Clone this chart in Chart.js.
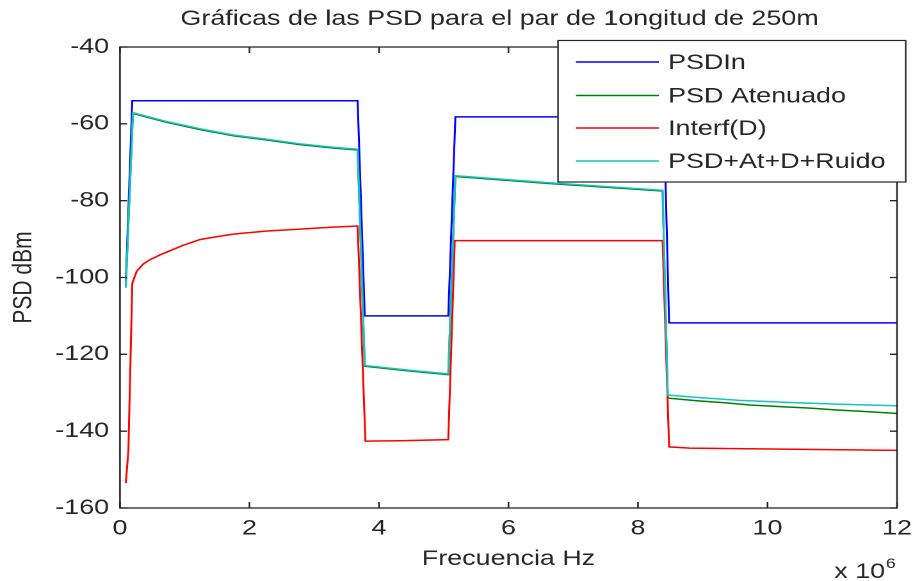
<!DOCTYPE html>
<html>
<head>
<meta charset="utf-8">
<script src="https://cdn.jsdelivr.net/npm/chart.js@4.4.1/dist/chart.umd.min.js"></script>
<style>
  html, body { margin: 0; padding: 0; background: #fff; overflow: hidden; }
  /* the figure is laid out narrow and widened, like a resized MATLAB window */
  #wrap { width: 713px; height: 581px; transform: scaleX(1.2805); transform-origin: 0 0; }
</style>
</head>
<body>
<div id="wrap"><canvas id="c" width="713" height="581"></canvas></div>
<script>
// Frequencies in Hz, PSD values in dBm
const psdInFreq = [0.09e6, 0.19e6, 3.67e6, 3.78e6, 5.07e6, 5.18e6, 8.40e6, 8.48e6, 12.0e6];
const psdInVal  = [-101, -54, -54, -110, -110, -58.2, -58.2, -111.8, -111.8];

const atenFreq = [0.09e6, 0.2e6, 0.72e6, 1.24e6, 1.75e6, 2.27e6, 2.78e6, 3.29e6, 3.67e6, 3.78e6, 4.4e6, 5.07e6,
                  5.18e6, 6.6e6, 8.38e6, 8.46e6, 8.93e6, 9.34e6, 9.73e6, 10.19e6, 10.66e6, 11.07e6, 11.54e6, 12.0e6];
const atenVal  = [-102.6, -57.3, -59.6, -61.5, -63.1, -64.2, -65.4, -66.3, -66.8, -123.1, -124.2, -125.3,
                  -73.7, -75.5, -77.5, -131.4, -132.1, -132.6, -133.2, -133.6, -134.0, -134.5, -134.9, -135.4];

const interfFreq = [0.09e6, 0.13e6, 0.19e6, 0.26e6, 0.36e6, 0.46e6, 0.62e6, 0.98e6, 1.24e6, 1.49e6, 1.75e6, 2.27e6,
                    2.78e6, 3.29e6, 3.67e6, 3.79e6, 4.32e6, 5.07e6, 5.17e6, 8.38e6, 8.48e6, 8.8e6, 12.0e6];
const interfVal  = [-153.5, -145, -101.5, -98.3, -96.5, -95.4, -94.1, -91.6, -90.1, -89.4, -88.7, -87.9,
                    -87.4, -86.9, -86.6, -142.6, -142.5, -142.2, -90.4, -90.4, -144.1, -144.4, -145.0];

const totalFreq = [0.09e6, 0.2e6, 0.72e6, 1.24e6, 1.75e6, 2.27e6, 2.78e6, 3.29e6, 3.67e6, 3.78e6, 4.4e6, 5.07e6,
                   5.18e6, 6.6e6, 8.38e6, 8.46e6, 8.9e6, 9.57e6, 10.3e6, 11.12e6, 12.0e6];
const totalVal  = [-102.5, -57.1, -59.4, -61.3, -62.9, -64.0, -65.2, -66.1, -66.6, -122.9, -124.0, -125.1,
                   -73.5, -75.3, -77.3, -130.6, -131.2, -132.0, -132.5, -133.0, -133.4];

const seriesNames = ['PSDIn', 'PSD Atenuado', 'Interf(D)', 'PSD+At+D+Ruido'];
const seriesColors = ['rgb(0,0,255)', 'rgb(0,128,0)', 'rgb(255,0,0)', 'rgb(20,196,196)'];

const yTicks = [-160, -140, -120, -100, -80, -60, -40];
const xTicks = [0, 2e6, 4e6, 6e6, 8e6, 10e6, 12e6];

const titleText = 'Gráficas de las PSD para el par de 1ongitud de 250m';

const FONT = 'Liberation Sans, Arial, Helvetica, sans-serif';
const INK = '#262626';

function pts(fs, vs) { return fs.map((f, i) => ({ x: f, y: vs[i] })); }

const pairs = [[psdInFreq, psdInVal], [atenFreq, atenVal], [interfFreq, interfVal], [totalFreq, totalVal]];
const datasets = pairs.map((p, i) => ({
  label: seriesNames[i],
  data: pts(p[0], p[1]),
  borderColor: seriesColors[i],
  backgroundColor: seriesColors[i],
  borderWidth: 1.5,
  pointRadius: 0,
  tension: 0,
  fill: false,
  order: 4 - i            // later series are drawn on top
}));

// Plot box with inward tick marks on all four sides, title, exponent and legend
const framePlugin = {
  id: 'frame',
  afterDatasetsDraw(chart) {
    const { ctx, chartArea: a, scales: { x, y } } = chart;
    ctx.save();
    ctx.strokeStyle = INK;
    ctx.lineWidth = 1.3;
    ctx.strokeRect(a.left, a.top, a.right - a.left, a.bottom - a.top);
    ctx.beginPath();
    x.ticks.forEach(t => {
      const px = x.getPixelForValue(t.value);
      ctx.moveTo(px, a.bottom); ctx.lineTo(px, a.bottom - 6);
      ctx.moveTo(px, a.top); ctx.lineTo(px, a.top + 6);
    });
    y.ticks.forEach(t => {
      const py = y.getPixelForValue(t.value);
      ctx.moveTo(a.left, py); ctx.lineTo(a.left + 5.5, py);
      ctx.moveTo(a.right, py); ctx.lineTo(a.right - 5.5, py);
    });
    ctx.stroke();
    ctx.restore();
  },
  afterDraw(chart) {
    const { ctx, chartArea: a } = chart;
    ctx.save();
    ctx.fillStyle = INK;

    // title centred over the plot box
    ctx.font = '21px ' + FONT;
    ctx.textAlign = 'center';
    ctx.textBaseline = 'middle';
    ctx.fillText(titleText, (a.left + a.right) / 2 - 7, 19);

    // exponent of the frequency axis
    ctx.textBaseline = 'alphabetic';
    ctx.textAlign = 'left';
    ctx.fillText('x 10', 651.5, 578);
    const w = ctx.measureText('x 10').width;
    ctx.font = '14px ' + FONT;
    ctx.fillText('6', 651.5 + w + 0.5, 568);

    // legend box in the upper right corner
    const bx = 435.8, by = 40.5, bw = 271.5, bh = 141.5;
    ctx.fillStyle = '#fff';
    ctx.fillRect(bx, by, bw, bh);
    ctx.strokeStyle = INK;
    ctx.lineWidth = 1.2;
    ctx.strokeRect(bx, by, bw, bh);
    const rows = [62, 95.5, 128, 161];
    ctx.font = '21px ' + FONT;
    ctx.textBaseline = 'middle';
    chart.data.datasets.forEach((ds, i) => {
      ctx.strokeStyle = ds.borderColor;
      ctx.lineWidth = 1.5;
      ctx.beginPath();
      ctx.moveTo(449.8, rows[i]);
      ctx.lineTo(514.6, rows[i]);
      ctx.stroke();
      ctx.fillStyle = INK;
      ctx.fillText(ds.label, 521.7, rows[i] + 1);
    });
    ctx.restore();
  }
};

new Chart(document.getElementById('c'), {
  type: 'line',
  data: { datasets },
  options: {
    responsive: false,
    animation: false,
    devicePixelRatio: 2,
    layout: { padding: { left: 0, right: 12.5, top: 47, bottom: 0 } },
    plugins: {
      legend: { display: false },
      tooltip: { enabled: false },
      title: { display: false }
    },
    scales: {
      x: {
        type: 'linear',
        min: 0, max: 12e6,
        afterBuildTicks: s => { s.ticks = xTicks.map(v => ({ value: v })); },
        afterFit: s => { s.height = 73; s.paddingLeft = 0; s.paddingRight = 0; },
        grid: { display: false, drawTicks: false },
        border: { display: false },
        ticks: {
          color: INK,
          font: { family: FONT, size: 21, lineHeight: 1.2 },
          padding: 8,
          maxRotation: 0,
          callback: v => String(v / 1e6)
        },
        title: {
          display: true,
          text: 'Frecuencia Hz',
          color: INK,
          font: { family: FONT, size: 21, lineHeight: 1.2 },
          padding: { top: 0, bottom: 9 }
        }
      },
      y: {
        type: 'linear',
        min: -160, max: -40,
        afterBuildTicks: s => { s.ticks = yTicks.map(v => ({ value: v })); },
        afterFit: s => { s.width = 93.7; s.paddingTop = 0; s.paddingBottom = 0; },
        grid: { display: false, drawTicks: false },
        border: { display: false },
        ticks: {
          color: INK,
          font: { family: FONT, size: 21, lineHeight: 1.2 },
          padding: 8.5
        },
        title: {
          display: true,
          text: 'PSD dBm',
          color: INK,
          font: { family: FONT, size: 21, lineHeight: 1.2 },
          padding: { top: 6, bottom: 0 }
        }
      }
    }
  },
  plugins: [framePlugin]
});
</script>
</body>
</html>
